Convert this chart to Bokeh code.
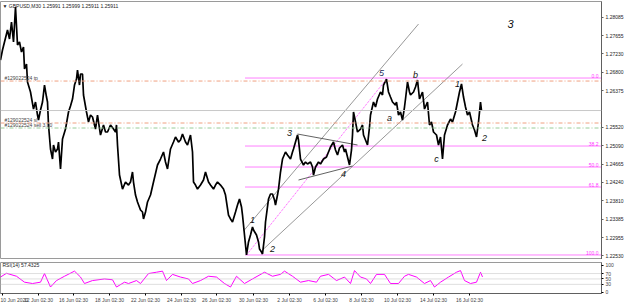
from bokeh.plotting import figure
from bokeh.layouts import column
from bokeh.models import Range1d, FixedTicker, PrintfTickFormatter, Label, Span
from bokeh.embed import file_html
from bokeh.resources import INLINE
from bokeh.core.properties import value

# ---- data ----
t_price = [0, 2, 4, 6, 7, 9, 11, 13, 15, 17, 19, 21, 23, 24, 26, 27, 30, 33, 35, 37, 38, 40, 42, 44, 46, 47,
           48, 50, 52, 53, 55, 57, 58, 60, 62, 65, 68, 70, 72, 74, 76, 77, 79, 80, 82, 83, 86, 88, 90, 92,
           95, 97, 100, 103, 105, 107, 110, 113, 115, 116, 117, 119, 122, 125, 128, 130, 132, 133, 135, 137,
           140, 142, 143, 145, 147, 150, 153, 157, 160, 163, 165, 167, 170, 173, 175, 178, 180, 182, 185,
           187, 190, 192, 193, 195, 197, 200, 203, 205, 208, 210, 213, 215, 217, 220, 223, 225, 228, 230,
           232, 235, 237, 239, 241, 242, 244, 246, 248, 250, 252, 253, 256, 258, 259, 261, 262, 264, 265,
           268, 270, 272, 274, 275, 277, 278, 280, 282, 285, 287, 290, 292, 293, 295, 297, 298, 300, 303,
           305, 307, 310, 312, 313, 315, 318, 320, 323, 326, 328, 330, 333, 335, 337, 339, 342, 344, 345,
           347, 349, 351, 352, 353, 355, 357, 360, 362, 363, 365, 367, 369, 370, 373, 375, 377, 380, 382,
           383, 386, 388, 390, 392, 395, 396, 398, 400, 402, 404, 405, 407, 409, 410, 413, 415, 417, 419,
           422, 424, 427, 429, 431, 433, 436, 438, 440, 442, 444, 447, 450, 452, 455, 457, 459, 461, 463,
           465, 467, 469, 472, 474, 476, 478, 480, 481]
price = [1.27085, 1.27318, 1.27504, 1.27690, 1.27783, 1.27574, 1.27969, 1.27504, 1.28317, 1.27434, 1.27504,
         1.27271, 1.27388, 1.26876, 1.26992, 1.26574, 1.26342, 1.25946, 1.26109, 1.25807, 1.25691, 1.25923,
         1.26109, 1.26504, 1.26225, 1.26109, 1.25575, 1.25017, 1.24784, 1.25110, 1.24947, 1.25017, 1.25179,
         1.24552, 1.25249, 1.25481, 1.25877, 1.26016, 1.26179, 1.26504, 1.26644, 1.26853, 1.26504, 1.26760,
         1.26760, 1.26272, 1.25877, 1.25644, 1.25807, 1.25761, 1.25481, 1.25807, 1.25342, 1.25575, 1.25412,
         1.25412, 1.25575, 1.25481, 1.25412, 1.25575, 1.25110, 1.24412, 1.24086, 1.24249, 1.24179, 1.24249,
         1.24482, 1.24249, 1.23947, 1.23785, 1.23599, 1.23552, 1.23390, 1.23552, 1.23785, 1.23947, 1.24249,
         1.24645, 1.24784, 1.24947, 1.24715, 1.24552, 1.25017, 1.25179, 1.25296, 1.25179, 1.25226, 1.25365,
         1.25179, 1.25110, 1.25342, 1.24947, 1.24249, 1.24179, 1.24086, 1.24179, 1.24296, 1.24482, 1.24249,
         1.24179, 1.24086, 1.24179, 1.24249, 1.24179, 1.24086, 1.23947, 1.23482, 1.23390, 1.23320, 1.23552,
         1.23715, 1.23854, 1.23669, 1.23482, 1.23017, 1.22553, 1.22855, 1.23017, 1.23203, 1.23134, 1.23017,
         1.22855, 1.22692, 1.22622, 1.22576, 1.22971, 1.23320, 1.23854, 1.23971, 1.23971, 1.23831, 1.23715,
         1.23947, 1.24086, 1.24482, 1.24784, 1.24947, 1.24877, 1.24784, 1.24947, 1.25017, 1.25179, 1.25342,
         1.25226, 1.24784, 1.24645, 1.24715, 1.24668, 1.24715, 1.24598, 1.24412, 1.24598, 1.24715, 1.24668,
         1.24784, 1.24831, 1.24947, 1.25063, 1.25179, 1.24994, 1.24877, 1.25040, 1.25110, 1.24947, 1.25017,
         1.24831, 1.24645, 1.24994, 1.25342, 1.25877, 1.25644, 1.25412, 1.25481, 1.25575, 1.25342, 1.25226,
         1.25110, 1.25528, 1.25807, 1.26109, 1.25993, 1.26179, 1.26342, 1.26272, 1.26504, 1.26644, 1.26342,
         1.26225, 1.26109, 1.26039, 1.26109, 1.25807, 1.25877, 1.25691, 1.25993, 1.26179, 1.26574, 1.26342,
         1.26272, 1.26342, 1.26458, 1.26621, 1.26179, 1.26342, 1.25946, 1.26109, 1.25575, 1.25644, 1.25412,
         1.25342, 1.25110, 1.25296, 1.24784, 1.25342, 1.25575, 1.25714, 1.25644, 1.25877, 1.26109, 1.26342,
         1.26528, 1.26225, 1.25993, 1.25807, 1.25877, 1.25575, 1.25458, 1.25296, 1.25644, 1.26109, 1.25911]

t_rsi = [0, 6, 16, 24, 32, 40, 44, 50, 56, 64, 74, 80, 84, 92, 104, 112, 116, 124, 128, 136, 140, 148, 156,
         162, 166, 172, 180, 188, 192, 200, 208, 216, 224, 230, 236, 244, 252, 264, 272, 280, 284, 292, 300,
         308, 316, 320, 328, 336, 344, 350, 354, 360, 366, 370, 376, 384, 390, 398, 404, 408, 416, 424, 430,
         434, 440, 448, 456, 460, 464, 470, 476, 480, 482]
rsi = [57, 71, 60, 38, 33, 38, 70, 20, 44, 60, 79, 57, 33, 44, 50, 47, 20, 38, 33, 44, 33, 70, 75, 79, 44, 67,
       57, 50, 33, 44, 60, 57, 33, 20, 60, 33, 50, 75, 60, 67, 79, 60, 38, 44, 38, 60, 67, 44, 57, 33, 81, 57,
       50, 33, 67, 67, 33, 33, 60, 67, 57, 33, 44, 20, 38, 57, 75, 81, 44, 33, 38, 75, 57.43]

date_ticks = [2, 38, 73, 109, 145, 181, 216, 253, 289, 325, 361, 397, 433, 469]
date_labels = ["10 Jun 2020", "12 Jun 02:30", "16 Jun 02:30", "18 Jun 02:30", "22 Jun 02:30",
               "24 Jun 02:30", "26 Jun 02:30", "30 Jun 02:30", "2 Jul 02:30", "6 Jul 02:30",
               "8 Jul 02:30", "10 Jul 02:30", "14 Jul 02:30", "16 Jul 02:30"]
price_ticks = [1.22530, 1.22955, 1.23385, 1.23810, 1.24240, 1.24665, 1.25090, 1.25520,
               1.26375, 1.26800, 1.27230, 1.27655, 1.28085]
rsi_ticks = [0, 30, 50, 70, 100]
rsi_levels = [30, 50, 70]
last_price = 1.25911

fib_levels = [1.26667, 1.25086, 1.24598, 1.24133, 1.22553]
fib_names = ["0.0", "38.2", "50.0", "61.8", "100.0"]
fib_t0 = 245
fib_t1 = 600

order_prices = [1.26597, 1.25621, 1.25505]
order_texts = ["#129022524 tp", "#129022524 sl", "#129022524 sell 3.00"]
order_colors = ["#f0a080", "#f0a080", "#98cc98"]

# channel / triangle lines: (t0, p0, t1, p1)
chan_t0 = [243, 262, 297, 298]
chan_p0 = [1.23110, 1.22669, 1.25365, 1.24296]
chan_t1 = [418, 462, 357, 352]
chan_p1 = [1.27922, 1.26992, 1.25110, 1.24621]
chan_colors = ["#8c8c8c", "#8c8c8c", "#505050", "#505050"]

fib_diag_t = [246, 386]
fib_diag_p = [1.22553, 1.26644]

wave_t = [510, 381, 415, 457, 389, 484, 436, 289, 343, 252, 272]
wave_p = [1.27922, 1.26783, 1.26737, 1.26528, 1.25737, 1.25272, 1.24784, 1.25389, 1.24436, 1.23366, 1.22692]
wave_text = ["3", "5", "b", "1", "a", "2", "c", "3", "4", "1", "2"]
wave_size = ["11px", "9px", "9px", "9px", "9px", "9px", "9px", "9px", "9px", "9px", "9px"]
wave_color = ["#111111", "#1c2a5a", "#111111", "#111111", "#111111", "#111111", "#111111",
              "#111111", "#111111", "#111111", "#111111"]

FONT = "Liberation Sans"
SMALL = "5px"

# ---- main price panel ----
p = figure(frame_width=601, frame_height=258, x_range=Range1d(0, 601),
           y_range=Range1d(1.22448, 1.28446), y_axis_location="right", x_axis_location=None,
           output_backend="svg", toolbar_location=None,
           min_border_left=0, min_border_top=1, min_border_bottom=0, min_border_right=0)
p.grid.visible = False
p.outline_line_color = "#9a9a9a"
p.background_fill_color = "white"
p.border_fill_color = "white"

ya = p.yaxis[0]
ya.ticker = FixedTicker(ticks=price_ticks)
ya.formatter = PrintfTickFormatter(format="%.5f")
ya.major_label_text_font = FONT
ya.major_label_text_font_size = SMALL
ya.major_label_text_color = "#222222"
ya.major_tick_out = 2
ya.major_tick_in = 0
ya.minor_tick_out = 0
ya.minor_tick_in = 0
ya.major_label_standoff = 2
ya.axis_line_color = "#606060"
ya.major_tick_line_color = "#606060"

p.add_layout(Span(location=last_price, dimension="width", line_color="#c8c8c8", line_width=1))
for op, oc in zip(order_prices, order_colors):
    p.add_layout(Span(location=op, dimension="width", line_color=oc, line_width=1, line_dash="4 2 1 2"))

for lv in fib_levels:
    p.line([fib_t0, fib_t1], [lv, lv], line_color="#ff00ff", line_width=1, line_dash="1 1")
p.text(x=fib_t1 - 2, y=fib_levels, text=fib_names, text_align="right", text_baseline="bottom",
       text_color="#ff33ff", text_font=value(FONT), text_font_size=value(SMALL))
p.line(fib_diag_t, fib_diag_p, line_color="#ff44ff", line_width=1, line_dash="1 1")

for i in range(len(chan_t0)):
    p.line([chan_t0[i], chan_t1[i]], [chan_p0[i], chan_p1[i]], line_color=chan_colors[i], line_width=0.9)

p.line(t_price, price, line_color="black", line_width=1.7)

p.text(x=[4] * 3, y=order_prices, text=order_texts, text_align="left", text_baseline="bottom",
       text_color="#444444", text_font=value(FONT), text_font_size=value(SMALL))

p.text(x=wave_t, y=wave_p, text=wave_text, text_align="center", text_baseline="middle",
       text_color=wave_color, text_font=value(FONT), text_font_size=wave_size,
       text_font_style="italic")

p.add_layout(Label(x=2, y=1.28330, text="\u25BC GBPUSD,M30  1.25991 1.25999 1.25911 1.25911",
                   text_font=FONT, text_font_size=SMALL, text_color="#222222",
                   text_baseline="middle"))
p.add_layout(Label(x=601, y=last_price, text="1.25911", text_font=FONT, text_font_size=SMALL,
                   text_color="white", background_fill_color="black", text_baseline="middle",
                   x_offset=1, padding=1))

# ---- RSI panel ----
r = figure(frame_width=601, frame_height=31, x_range=p.x_range, y_range=Range1d(-4, 111),
           y_axis_location="right", output_backend="svg", toolbar_location=None,
           min_border_left=0, min_border_top=3, min_border_bottom=0, min_border_right=0)
r.grid.visible = False
r.outline_line_color = "#9a9a9a"
for lv in rsi_levels:
    r.add_layout(Span(location=lv, dimension="width", line_color="#bdbdbd", line_width=1, line_dash="1 1"))
r.line(t_rsi, rsi, line_color="#ff00ff", line_width=1)
r.add_layout(Label(x=2, y=100, text="RSI(14) 57.4325", text_font=FONT, text_font_size=SMALL,
                   text_color="#222222", text_baseline="middle"))

ry = r.yaxis[0]
ry.ticker = FixedTicker(ticks=rsi_ticks)
ry.major_label_text_font = FONT
ry.major_label_text_font_size = SMALL
ry.major_tick_out = 2
ry.major_tick_in = 0
ry.minor_tick_out = 0
ry.minor_tick_in = 0
ry.major_label_standoff = 2
ry.axis_line_color = "#606060"

rx = r.xaxis[0]
rx.ticker = FixedTicker(ticks=date_ticks)
rx.major_label_overrides = {t: s for t, s in zip(date_ticks, date_labels)}
rx.major_label_text_font = FONT
rx.major_label_text_font_size = SMALL
rx.major_label_text_align = "left"
rx.major_tick_out = 2
rx.major_tick_in = 0
rx.minor_tick_out = 0
rx.minor_tick_in = 0
rx.major_label_standoff = 1
rx.axis_line_color = "#606060"

layout = column(p, r, spacing=0)
open("out.html", "w").write(file_html(layout, INLINE))
